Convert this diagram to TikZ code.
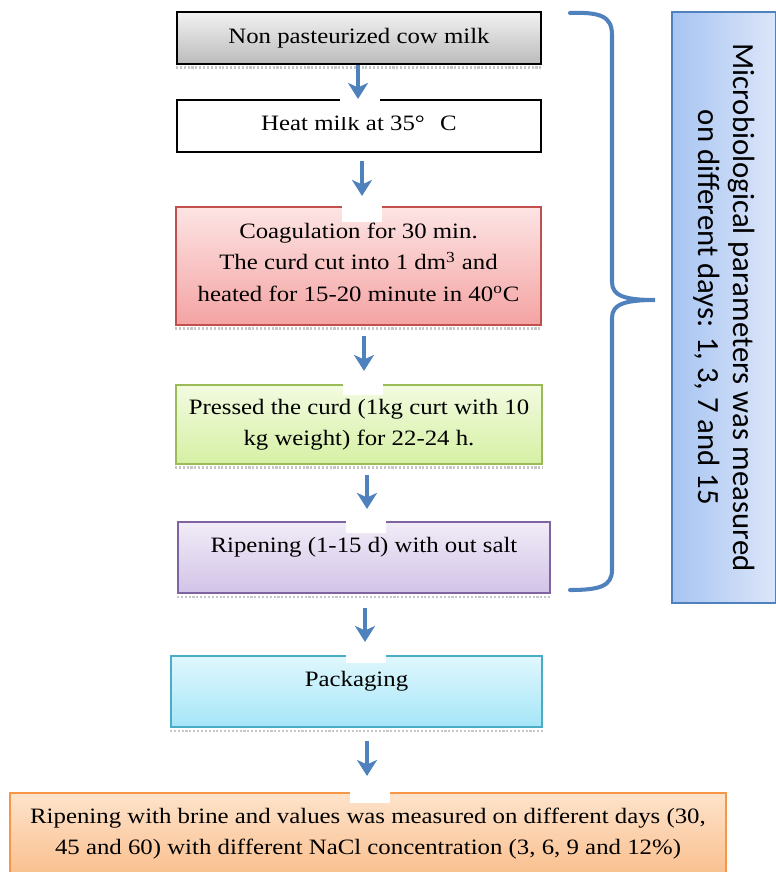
\documentclass[tikz,border=0pt]{standalone}
\usepackage{fontspec}
\setmainfont{Liberation Serif}[FakeStretch=1.13]
\newfontfamily\sidefont{Carlito}
\usetikzlibrary{arrows.meta}

\definecolor{arrowblue}{HTML}{4F81BD}
\definecolor{graytop}{HTML}{F2F2F2}
\definecolor{graybot}{HTML}{BBBBBB}
\definecolor{redtop}{HTML}{FDE4E4}
\definecolor{redbot}{HTML}{F4A3A3}
\definecolor{redline}{HTML}{C0504D}
\definecolor{greentop}{HTML}{F2FBE0}
\definecolor{greenbot}{HTML}{D6F0A4}
\definecolor{greenline}{HTML}{9BBB59}
\definecolor{purpletop}{HTML}{F1ECF7}
\definecolor{purplebot}{HTML}{D2C3E8}
\definecolor{purpleline}{HTML}{8064A2}
\definecolor{cyantop}{HTML}{E0F7FD}
\definecolor{cyanbot}{HTML}{A5E6F8}
\definecolor{cyanline}{HTML}{4BACC6}
\definecolor{orangetop}{HTML}{FDE3CB}
\definecolor{orangebot}{HTML}{FAC08F}
\definecolor{orangeline}{HTML}{F79646}
\definecolor{sidedark}{HTML}{A7C4F2}
\definecolor{sidelight}{HTML}{DCE6F9}

\tikzset{
  stage/.style={draw, line width=1.2pt, align=center, inner sep=2pt,
    font=\fontsize{12.5}{17.9}\selectfont},
  toptext/.style={inner ysep=0pt, text height=0.6cm, text depth=#1},
  flow/.style={draw=arrowblue, line width=2.4pt,
    -{Stealth[length=0.32cm,width=0.4cm,inset=0.09cm]},
    shorten <=0.2cm, shorten >=0.24cm},
  shadowline/.style={gray!45, densely dotted, line width=1.2pt},
  sidebox/.style={draw=arrowblue, line width=1.2pt, left color=sidedark,
    right color=sidelight, align=center,
    font=\sidefont\fontsize{17.5}{19.9}\selectfont},
  brace/.style={draw=arrowblue, line width=2.3pt, line cap=round}
}

\begin{document}
\begin{tikzpicture}[x=0.02cm,y=-0.02cm]
\useasboundingbox (0,0) rectangle (776,872);

% process steps
\node[stage, top color=graytop, bottom color=graybot,
  minimum width=7.28cm, minimum height=1.04cm] (nonpast) at (359,38)
  {Non pasteurized cow milk};
\node[stage, fill=white, toptext=0.44cm,
  minimum width=7.28cm] (heat) at (359,126)
  {Heat milk at 35°\hspace{0.7em}C};
\node[stage, draw=redline, top color=redtop, bottom color=redbot,
  minimum width=7.3cm, minimum height=2.36cm] (coag) at (358.5,266)
  {Coagulation for 30 min.\\The curd cut into 1 dm\textsuperscript{3} and\\
   heated for 15-20 minute in 40\textsuperscript{o}C\rule[-0.16cm]{0pt}{0pt}};
\node[stage, draw=greenline, top color=greentop, bottom color=greenbot,
  minimum width=7.32cm, minimum height=1.58cm] (press) at (359,424.5)
  {Pressed the curd (1kg curt with 10\\kg weight) for 22-24 h.};
\node[stage, draw=purpleline, top color=purpletop, bottom color=purplebot,
  toptext=0.82cm, minimum width=7.44cm] (ripen) at (364,557.5)
  {Ripening (1-15 d) with out salt};
\node[stage, draw=cyanline, top color=cyantop, bottom color=cyanbot,
  toptext=0.82cm, minimum width=7.42cm] (pack) at (356.5,691.5)
  {Packaging};
\node[stage, draw=orangeline, top color=orangetop, bottom color=orangebot,
  minimum width=14.32cm, minimum height=1.62cm] (brine) at (368,833.5)
  {Ripening with brine and values was measured on different days (30,\\
   45 and 60) with different NaCl concentration (3, 6, 9 and 12\%)};

% side note
\node[sidebox, rotate=-90, minimum width=11.82cm, minimum height=2.08cm]
  (micro) at (724,307.5)
  {Microbiological parameters was measured\\on different days: 1, 3, 7 and 15};

\foreach \s in {nonpast,coag,press,ripen,pack}
  \draw[shadowline] ([yshift=-0.05cm]\s.south west) -- ([yshift=-0.05cm]\s.south east);

% white gaps where the arrows meet the boxes
\foreach \x/\y/\h in {359.5/99/18, 361.5/205/17, 363/383/12,
                      365.5/520/13, 365.5/655/8, 370/791/12}
  \fill[white] (\x-20,\y) rectangle (\x+20,\y+\h);

\draw[flow, shorten <=0pt, shorten >=0pt] ([xshift=-0.02cm]nonpast.south)
  -- ([xshift=-0.02cm]nonpast.south |- heat.north);
\draw[flow, shorten <=0.16cm, shorten >=0.2cm] ([xshift=0.06cm]heat.south)
  -- ([xshift=0.06cm]heat.south |- coag.north);
\draw[flow, shorten >=0.26cm] ([xshift=0.11cm]coag.south)
  -- ([xshift=0.11cm]coag.south |- press.north);
\draw[flow] ([xshift=0.16cm]press.south)
  -- ([xshift=0.16cm]press.south |- ripen.north);
\draw[flow, shorten <=0.28cm, shorten >=0.26cm] ([xshift=0.02cm]ripen.south)
  -- ([xshift=0.02cm]ripen.south |- pack.north);
\draw[flow, shorten <=0.26cm, shorten >=0.32cm] ([xshift=0.21cm]pack.south)
  -- ([xshift=0.21cm]pack.south |- brine.north);

% brace
\draw[brace] (570,13) .. controls (600,12) and (612,16) .. (612,35)
  -- (612,282) .. controls (612,296) and (625,300) .. (655,300)
  .. controls (625,300) and (612,304) .. (612,318)
  -- (612,570) .. controls (612,586) and (600,590) .. (570,590);
\end{tikzpicture}
\end{document}
